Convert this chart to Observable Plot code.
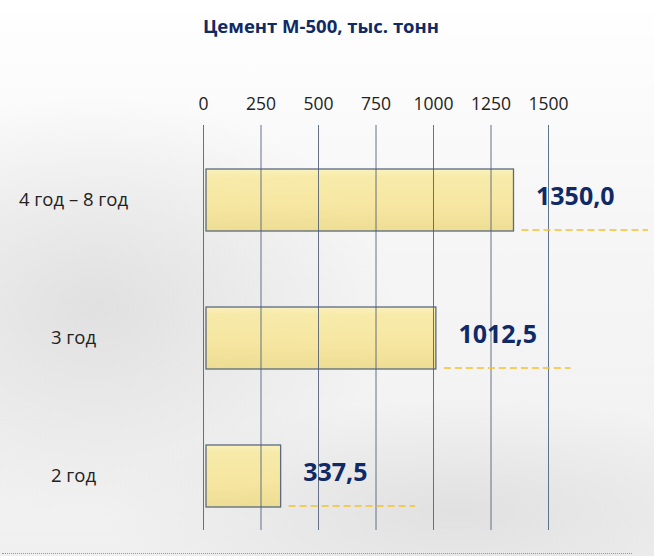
<!DOCTYPE html>
<html>
<head>
<meta charset="utf-8">
<script src="https://cdn.jsdelivr.net/npm/d3@7"></script>
<script src="https://cdn.jsdelivr.net/npm/@observablehq/plot@0.6"></script>
<style>
  html, body { margin: 0; padding: 0; }
  body {
    width: 654px; height: 556px; position: relative; overflow: hidden;
    font-family: 'Open Sans', sans-serif;
    background:
      radial-gradient(ellipse 420px 300px at 15% 55%, rgba(200,200,200,0.45), rgba(230,230,230,0) 70%),
      radial-gradient(ellipse 500px 160px at 70% 92%, rgba(205,205,205,0.45), rgba(230,230,230,0) 70%),
      linear-gradient(180deg, #ffffff 0%, #f6f6f6 40%, #f0f0f0 100%);
  }
  #title {
    position: absolute; top: 13px; left: 0; width: 642px; text-align: center;
    font-weight: bold; font-size: 18.5px; color: #0f2a66;
  }
  #chart { position: absolute; top: 0; left: 0; }
  #bottomline {
    position: absolute; top: 553px; left: 2px; width: 630px;
    border-top: 1px dotted #9a9a9a;
  }
</style>
</head>
<body>
<div id="title">Цемент М-500, тыс. тонн</div>
<div id="chart"></div>
<div id="bottomline"></div>
<script>
const categories = ["4 год – 8 год", "3 год", "2 год"];
const values = [1350.0, 1012.5, 337.5];
const valueLabels = ["1350,0", "1012,5", "337,5"];
const xTicks = [0, 250, 500, 750, 1000, 1250, 1500];

const data = categories.map((c, i) => ({cat: c, value: values[i], label: valueLabels[i]}));

const svg = Plot.plot({
  width: 654,
  height: 556,
  marginLeft: 203,
  marginRight: 106,
  marginTop: 125,
  marginBottom: 26,
  style: {fontFamily: "'Open Sans', sans-serif", background: "transparent", overflow: "visible"},
  x: {domain: [0, 1500], label: null},
  y: {domain: categories, range: [130, 546], padding: 0, label: null},
  marks: [
    Plot.barX(data, {
      x: "value", y: "cat",
      fill: "url(#barGrad)", fillOpacity: 0.92,
      stroke: "#5a6a80", strokeWidth: 1.3,
      insetTop: 38, insetBottom: 38, insetLeft: 3
    }),
    Plot.gridX(xTicks, {stroke: "#4b5b78", strokeOpacity: 0.85, strokeWidth: 1}),
    Plot.axisX(xTicks, {anchor: "top", label: null, tickSize: 0, tickPadding: 16, fontSize: 17.5, fill: "#222", tickFormat: d => String(d)}),
    Plot.axisY({label: null, tickSize: 0, tickPadding: 130, textAnchor: "middle", fontSize: 18.5, fill: "#222"}),
    Plot.ruleY(data, {
      y: "cat", x1: "value", x2: d => d.value + 550, dx: 8, dy: 29.5,
      stroke: "#f7c02c", strokeOpacity: 1, strokeWidth: 1.4, strokeDasharray: "7,4"
    }),
    Plot.text(data, {
      x: "value", y: "cat", text: "label", textAnchor: "start",
      dx: 22, dy: -4, fontSize: 25, fontWeight: "bold", fill: "#0f2a66"
    })
  ]
});

d3.select(svg).insert("defs", ":first-child").html(`
  <linearGradient id="barGrad" x1="0" y1="0" x2="0" y2="1">
    <stop offset="0" stop-color="#fbf1b8"/>
    <stop offset="0.12" stop-color="#f8eaa4"/>
    <stop offset="0.6" stop-color="#f6e59a"/>
    <stop offset="1" stop-color="#eedb8c"/>
  </linearGradient>`);

document.getElementById("chart").appendChild(svg);
</script>
</body>
</html>
